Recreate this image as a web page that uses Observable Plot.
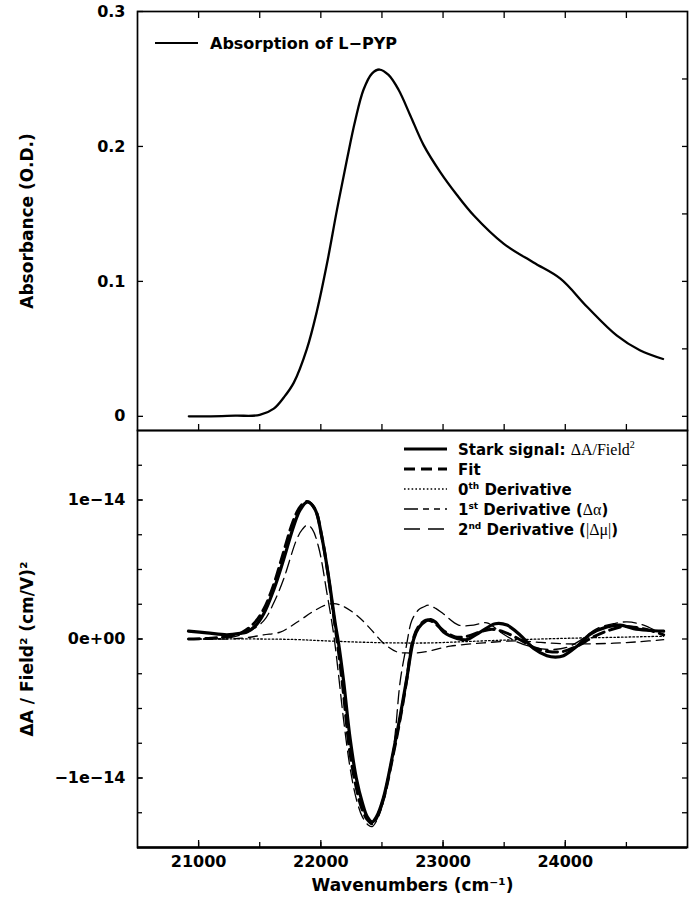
<!DOCTYPE html>
<html>
<head>
<meta charset="utf-8">
<script src="https://cdn.jsdelivr.net/npm/d3@7"></script>
<script src="https://cdn.jsdelivr.net/npm/@observablehq/plot@0.6"></script>
<style>
  html, body { margin: 0; padding: 0; background: #fff; overflow: hidden; }
  #wrap { position: relative; width: 693px; height: 899px; }
  #wrap > svg { display: block; }
  #legend { position: absolute; left: 0; top: 0; pointer-events: none; }
</style>
</head>
<body>
<div id="wrap"></div>
<script>
// ---------- DATA ----------
// Absorption of L-PYP: [wavenumber (cm^-1), absorbance (O.D.)]
const absorption = [
  [20920, 0], [21100, 0], [21300, 0.0005], [21500, 0.001], [21615, 0.0057], [21697, 0.014],
  [21779, 0.025], [21886, 0.050], [21968, 0.078], [22050, 0.113], [22132, 0.153], [22213, 0.190],
  [22281, 0.219], [22349, 0.242], [22418, 0.254], [22480, 0.257], [22554, 0.253], [22636, 0.242],
  [22732, 0.223], [22841, 0.201], [22977, 0.181], [23114, 0.164], [23250, 0.149], [23495, 0.128],
  [23740, 0.114], [23960, 0.102], [24180, 0.081], [24420, 0.060], [24610, 0.049], [24800, 0.0425]
];

// Stark spectra, values in units of 1e-14 (cm/V)^2
const starkSignal = [
  [20917, 0.056], [21068, 0.044], [21231, 0.030], [21340, 0.040], [21395, 0.051], [21460, 0.09],
  [21532, 0.18], [21613, 0.35], [21695, 0.57], [21777, 0.81], [21832, 0.93], [21891, 0.986],
  [21954, 0.93], [22009, 0.73], [22063, 0.45], [22118, 0.11], [22145, -0.03], [22186, -0.30],
  [22240, -0.72], [22290, -1.00], [22340, -1.18], [22380, -1.28], [22420, -1.316], [22455, -1.28],
  [22513, -1.14], [22595, -0.80], [22650, -0.55], [22704, -0.28], [22760, 0.0],
  [22800, 0.08], [22860, 0.13], [22900, 0.14], [22940, 0.12], [23004, 0.05], [23114, 0.004],
  [23196, -0.004], [23304, 0.05], [23427, 0.11], [23523, 0.10], [23632, 0.027], [23741, -0.068],
  [23850, -0.12], [23920, -0.13], [23986, -0.12], [24096, -0.052], [24205, 0.035], [24341, 0.087],
  [24450, 0.10], [24559, 0.075], [24668, 0.063], [24805, 0.056]
];

const fit = [
  [20917, 0.0], [21100, 0.005], [21250, 0.02], [21350, 0.045], [21450, 0.11], [21530, 0.21],
  [21610, 0.38], [21690, 0.61], [21770, 0.84], [21830, 0.95], [21885, 0.99], [21950, 0.94],
  [22005, 0.75], [22060, 0.46], [22115, 0.10], [22140, -0.06], [22180, -0.35], [22235, -0.80],
  [22285, -1.05], [22335, -1.22], [22380, -1.30], [22420, -1.33], [22455, -1.29],
  [22513, -1.15], [22595, -0.82], [22650, -0.57], [22700, -0.31], [22750, -0.02], [22800, 0.09],
  [22860, 0.135], [22900, 0.13], [22950, 0.10], [23004, 0.06], [23100, 0.015], [23200, 0.02],
  [23300, 0.05], [23400, 0.07], [23500, 0.05], [23620, 0.0], [23740, -0.06], [23860, -0.09],
  [23980, -0.09], [24100, -0.05], [24220, 0.01], [24350, 0.06], [24480, 0.09], [24600, 0.08],
  [24700, 0.06], [24805, 0.03]
];

const deriv0 = [
  [20917, 0.0], [21500, 0.0], [21800, -0.004], [22000, -0.012], [22300, -0.022], [22600, -0.028],
  [22900, -0.028], [23200, -0.018], [23500, -0.008], [23800, 0.0], [24100, 0.007], [24400, 0.012],
  [24805, 0.02]
];

const deriv1 = [
  [20917, 0.0], [21259, 0.0], [21400, 0.01], [21532, 0.03], [21668, 0.05], [21804, 0.12],
  [21941, 0.20], [22040, 0.245], [22104, 0.255], [22173, 0.24], [22295, 0.17], [22404, 0.075],
  [22513, -0.03], [22623, -0.093], [22700, -0.10], [22786, -0.10], [22868, -0.09], [23059, -0.052],
  [23332, -0.028], [23604, -0.014], [23800, -0.025], [24000, -0.035], [24200, -0.035],
  [24400, -0.03], [24600, -0.02], [24805, -0.005]
];

const deriv2 = [
  [20917, 0.0], [21100, 0.0], [21259, 0.01], [21400, 0.05], [21532, 0.13], [21620, 0.27],
  [21695, 0.43], [21804, 0.72], [21850, 0.79], [21891, 0.82], [21930, 0.79], [21982, 0.66],
  [22050, 0.33], [22104, 0.04], [22140, -0.22], [22186, -0.58], [22240, -0.93], [22290, -1.15],
  [22340, -1.28], [22390, -1.34], [22420, -1.35], [22455, -1.31], [22513, -1.17],
  [22595, -0.78], [22650, -0.30], [22700, -0.05], [22745, 0.135], [22800, 0.21], [22840, 0.23],
  [22881, 0.243], [22940, 0.22], [23004, 0.18], [23127, 0.10], [23250, 0.10], [23359, 0.116],
  [23468, 0.05], [23604, -0.02], [23741, -0.06], [23877, -0.076], [24014, -0.06], [24123, -0.01],
  [24259, 0.075], [24395, 0.11], [24505, 0.123], [24641, 0.10], [24805, 0.027]
];

// Ticks and labels
const xTicks = [21000, 22000, 23000, 24000];
const xTickLabels = ["21000", "22000", "23000", "24000"];
const xMinorTicks = [21000, 21500, 22000, 22500, 23000, 23500, 24000, 24500];
const absTicks = [0, 0.1, 0.2, 0.3];
const absTickLabels = ["0", "0.1", "0.2", "0.3"];
const absMinorTicks = [0, 0.05, 0.1, 0.15, 0.2, 0.25];
const starkTicks = [-1, 0, 1];
const starkTickLabels = ["\u22121e\u221214", "0e+00", "1e\u221214"];
const starkMinorTicks = [-1.25, -1, -0.75, -0.5, -0.25, 0, 0.25, 0.5, 0.75, 1, 1.25];

const yTitleTop = "Absorbance (O.D.)";
const yTitleBottom = "\u0394A / Field\u00b2 (cm/V)\u00b2";
const xTitle = "Wavenumbers (cm\u207b\u00b9)";

// ---------- CHART ----------
const FONT = "'DejaVu Sans', 'Liberation Sans', sans-serif";
const baseStyle = {fontFamily: FONT, fontWeight: "bold", fontSize: "16px", color: "#000",
  background: "transparent", overflow: "visible"};
const xDomain = [20500, 25000];
const lab = (ticks, labels) => { const m = new Map(ticks.map((t, i) => [t, labels[i]])); return d => m.get(d); };
const px = d => d[0], py = d => d[1];

const topPlot = Plot.plot({
  width: 693, height: 430, marginTop: 11, marginBottom: 0, marginLeft: 137, marginRight: 6,
  style: baseStyle,
  x: {domain: xDomain},
  y: {domain: [-0.0105, 0.3]},
  marks: [
    Plot.axisY(absTicks, {anchor: "left", tickSize: -6, tickPadding: 18, tickFormat: lab(absTicks, absTickLabels), label: null, strokeWidth: 1.3}),
    Plot.axisY(absMinorTicks, {anchor: "right", tickSize: -6, text: null, label: null, strokeWidth: 1.3}),
    Plot.axisX(xMinorTicks, {anchor: "top", tickSize: -6, text: null, label: null, strokeWidth: 1.3}),
    Plot.axisX(xMinorTicks, {anchor: "bottom", tickSize: -6, text: null, label: null, strokeWidth: 1.3}),
    Plot.frame({stroke: "#000", strokeWidth: 1.7}),
    Plot.line(absorption, {x: px, y: py, curve: "catmull-rom", stroke: "#000", strokeWidth: 2.3}),
    Plot.text([yTitleTop], {frameAnchor: "left", textAnchor: "middle", lineAnchor: "middle", rotate: -90, dx: -110, fontSize: 17})
  ]
});

const bottomPlot = Plot.plot({
  width: 693, height: 469, marginTop: 0, marginBottom: 52, marginLeft: 137, marginRight: 6,
  style: baseStyle,
  x: {domain: xDomain},
  y: {domain: [-1.5, 1.5]},
  marks: [
    Plot.axisY(starkTicks, {anchor: "left", tickSize: -6, tickPadding: 18, tickFormat: lab(starkTicks, starkTickLabels), label: null, strokeWidth: 1.3}),
    Plot.axisY(starkMinorTicks, {anchor: "left", tickSize: -5, text: null, label: null, strokeWidth: 1.3}),
    Plot.axisY(starkMinorTicks, {anchor: "right", tickSize: -6, text: null, label: null, strokeWidth: 1.3}),
    Plot.axisX(xMinorTicks, {anchor: "bottom", tickSize: -5, text: null, label: null, strokeWidth: 1.3}),
    Plot.axisX(xTicks, {anchor: "bottom", tickSize: -7, tickPadding: 15, tickFormat: lab(xTicks, xTickLabels), label: null, strokeWidth: 1.3}),
    Plot.frame({stroke: "#000", strokeWidth: 1.7}),
    Plot.ruleY([-1.5], {stroke: "#000", strokeWidth: 2.4}),
    Plot.line(deriv0, {x: px, y: py, curve: "catmull-rom", stroke: "#000", strokeWidth: 1.3, strokeDasharray: "1.6,2.2"}),
    Plot.line(deriv1, {x: px, y: py, curve: "catmull-rom", stroke: "#000", strokeWidth: 1.3, strokeDasharray: "9,6"}),
    Plot.line(deriv2, {x: px, y: py, curve: "catmull-rom", stroke: "#000", strokeWidth: 1.3, strokeDasharray: "13,6"}),
    Plot.line(fit, {x: px, y: py, curve: "catmull-rom", stroke: "#000", strokeWidth: 3, strokeDasharray: "11,6"}),
    Plot.line(starkSignal, {x: px, y: py, curve: "catmull-rom", stroke: "#000", strokeWidth: 3.2}),
    Plot.text([xTitle], {frameAnchor: "bottom", textAnchor: "middle", lineAnchor: "middle", dy: 38, fontSize: 17}),
    Plot.text([yTitleBottom], {frameAnchor: "left", textAnchor: "middle", lineAnchor: "middle", rotate: -90, dx: -110, dy: 10, fontSize: 17})
  ]
});

const wrap = document.getElementById("wrap");
wrap.appendChild(topPlot);
wrap.appendChild(bottomPlot);

// ---------- LEGENDS ----------
const legendTop = {label: "Absorption of L\u2212PYP"};
const legendBottom = [
  {key: "stark", dash: null, width: 3},
  {key: "fit", dash: "11,6", width: 3},
  {key: "d0", dash: "1.6,2.2", width: 1.3},
  {key: "d1", dash: "14,5,6,5,6,5", width: 1.3},
  {key: "d2", dash: "16,8", width: 1.3}
];

const NS = "http://www.w3.org/2000/svg";
const leg = document.createElementNS(NS, "svg");
leg.setAttribute("id", "legend");
leg.setAttribute("width", 693);
leg.setAttribute("height", 899);
const SANS = FONT, SERIF = "'Liberation Serif', 'DejaVu Serif', serif";
let html = "";
html += `<line x1="155" x2="198" y1="43" y2="43" stroke="#000" stroke-width="2"/>`;
html += `<text x="210" y="49" font-family="${SANS}" font-weight="bold" font-size="16">${legendTop.label}</text>`;
const rowY = [449, 469, 489, 509, 529];
legendBottom.forEach((r, i) => {
  html += `<line x1="404" x2="447" y1="${rowY[i]}" y2="${rowY[i]}" stroke="#000" stroke-width="${r.width}" ${r.dash ? `stroke-dasharray="${r.dash}"` : ""}/>`;
});
const tb = y => `x="458" y="${y + 5.5}" font-family="${SANS}" font-weight="bold" font-size="15"`;
html += `<text ${tb(rowY[0])}>Stark signal: <tspan font-family="${SERIF}" font-weight="normal" font-size="16">\u0394A/Field</tspan><tspan font-family="${SERIF}" font-weight="normal" font-size="10" dy="-7">2</tspan></text>`;
html += `<text ${tb(rowY[1])}>Fit</text>`;
html += `<text ${tb(rowY[2])}>0<tspan font-size="9" dy="-6">th</tspan><tspan dy="6"> Derivative</tspan></text>`;
html += `<text ${tb(rowY[3])}>1<tspan font-size="9" dy="-6">st</tspan><tspan dy="6"> Derivative (</tspan><tspan font-family="${SERIF}" font-weight="normal" font-size="16">\u0394\u03b1</tspan>)</text>`;
html += `<text ${tb(rowY[4])}>2<tspan font-size="9" dy="-6">nd</tspan><tspan dy="6"> Derivative (</tspan><tspan font-family="${SERIF}" font-weight="normal" font-size="16">|\u0394\u03bc|</tspan>)</text>`;
leg.innerHTML = html;
wrap.appendChild(leg);
</script>
</body>
</html>
